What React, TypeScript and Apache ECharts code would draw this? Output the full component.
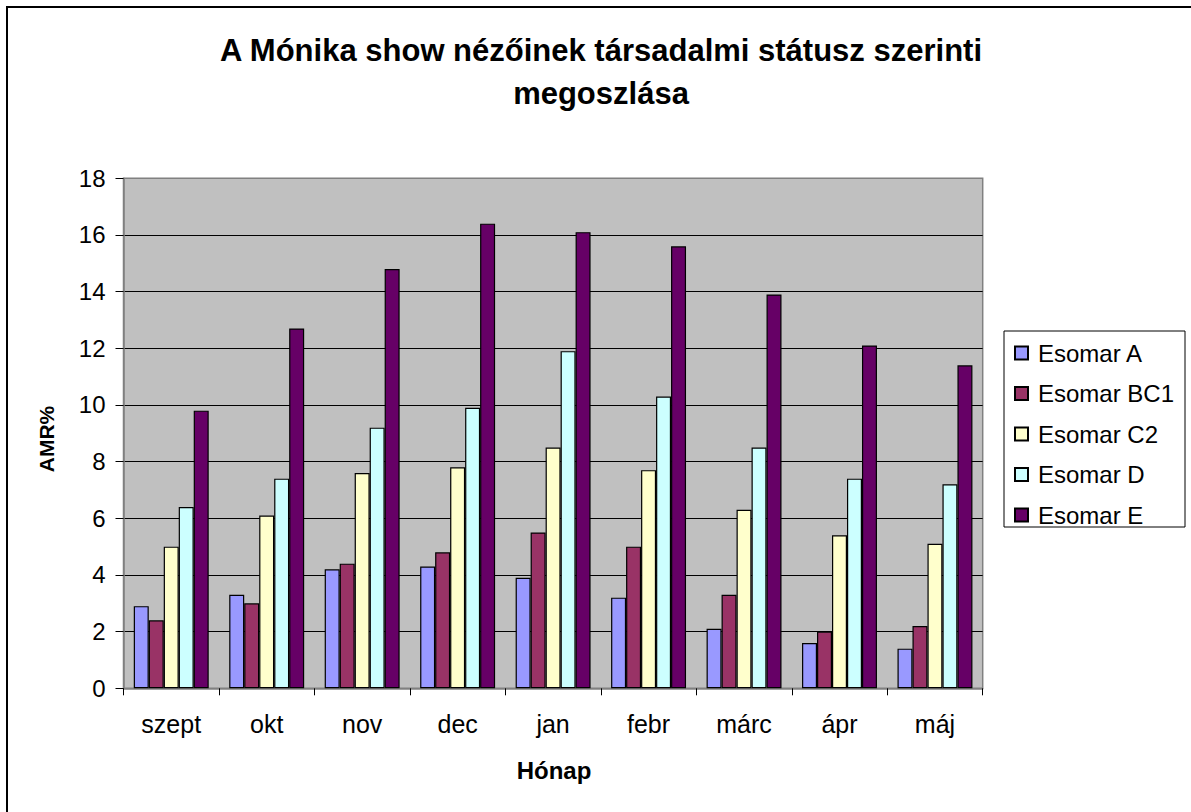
import React, { useEffect, useRef } from "react";
import * as echarts from "echarts";

const titleText = "A Mónika show nézőinek társadalmi státusz szerinti\nmegoszlása";
const xAxisName = "Hónap";
const yAxisName = "AMR%";
const categories = ["szept", "okt", "nov", "dec", "jan", "febr", "márc", "ápr", "máj"];
const seriesNames = ["Esomar A", "Esomar BC1", "Esomar C2", "Esomar D", "Esomar E"];
const esomarA = [2.9, 3.3, 4.2, 4.3, 3.9, 3.2, 2.1, 1.6, 1.4];
const esomarBC1 = [2.4, 3.0, 4.4, 4.8, 5.5, 5.0, 3.3, 2.0, 2.2];
const esomarC2 = [5.0, 6.1, 7.6, 7.8, 8.5, 7.7, 6.3, 5.4, 5.1];
const esomarD = [6.4, 7.4, 9.2, 9.9, 11.9, 10.3, 8.5, 7.4, 7.2];
const esomarE = [9.8, 12.7, 14.8, 16.4, 16.1, 15.6, 13.9, 12.1, 11.4];
const seriesColors = ["#9999FF", "#993366", "#FFFFCC", "#CCFFFF", "#660066"];
const yTicks = { min: 0, max: 18, interval: 2 };

const FONT = "'Liberation Sans', Arial, sans-serif";

export default function App() {
  const ref = useRef<HTMLDivElement>(null);
  useEffect(() => {
    if (!ref.current) return;
    const chart = echarts.init(ref.current, undefined, { renderer: "svg" });
    const values = [esomarA, esomarBC1, esomarC2, esomarD, esomarE];
    chart.setOption({
      animation: false,
      backgroundColor: "#ffffff",
      textStyle: { fontFamily: FONT },
      title: {
        text: titleText,
        left: 601,
        top: 29,
        textAlign: "center",
        padding: 0,
        textStyle: {
          fontFamily: FONT,
          fontSize: 31,
          fontWeight: "bold",
          color: "#000",
          lineHeight: 43,
        },
      },
      grid: {
        left: 123.5,
        top: 178.3,
        right: 208.3,
        bottom: 123.7,
        show: true,
        backgroundColor: "#C0C0C0",
        borderColor: "#808080",
        borderWidth: 1.5,
        containLabel: false,
      },
      legend: {
        orient: "vertical",
        left: 1014,
        top: 341,
        padding: 0,
        itemWidth: 13,
        itemHeight: 13,
        itemGap: 16.5,
        icon: "rect",
        data: seriesNames,
        textStyle: {
          fontFamily: FONT,
          fontSize: 24,
          lineHeight: 24,
          color: "#000",
          padding: [0, 0, 0, 5],
        },
      },
      xAxis: {
        type: "category",
        data: categories,
        axisLine: { lineStyle: { color: "#808080", width: 1.5 } },
        axisTick: { show: true, length: 7, lineStyle: { color: "#000" } },
        axisLabel: { fontFamily: FONT, fontSize: 25, color: "#000", margin: 23 },
        splitLine: { show: false },
      },
      yAxis: {
        type: "value",
        min: yTicks.min,
        max: yTicks.max,
        interval: yTicks.interval,
        axisLine: { show: true, lineStyle: { color: "#808080", width: 1.5 } },
        axisTick: { show: true, length: 8, lineStyle: { color: "#000" } },
        axisLabel: { fontFamily: FONT, fontSize: 24, color: "#000", margin: 18 },
        splitLine: {
          show: true,
          showMinLine: false,
          showMaxLine: false,
          lineStyle: { color: "#000", width: 1 },
        },
      },
      graphic: [
        {
          type: "line",
          shape: { x1: 7, y1: 7, x2: 7, y2: 812 },
          style: { stroke: "#000", lineWidth: 2 },
          silent: true,
          z: 100,
        },
        {
          type: "line",
          shape: { x1: 6, y1: 7, x2: 1191, y2: 7 },
          style: { stroke: "#000", lineWidth: 2 },
          silent: true,
          z: 100,
        },
        {
          type: "rect",
          shape: { x: 1004, y: 331, width: 181, height: 196 },
          style: { fill: "#fff", stroke: "#000", lineWidth: 1 },
          silent: true,
          z: -1,
        },
        {
          type: "text",
          x: 46,
          y: 439,
          rotation: Math.PI / 2,
          style: {
            text: yAxisName,
            fontFamily: FONT,
            fontSize: 21,
            fontWeight: "bold",
            fill: "#000",
            textAlign: "center",
            textVerticalAlign: "middle",
          },
        },
        {
          type: "text",
          x: 554,
          y: 770,
          style: {
            text: xAxisName,
            fontFamily: FONT,
            fontSize: 24,
            fontWeight: "bold",
            fill: "#000",
            textAlign: "center",
            textVerticalAlign: "middle",
          },
        },
      ],
      series: seriesNames.map((name, i) => ({
        name,
        type: "bar",
        data: values[i],
        barGap: "0%",
        barCategoryGap: "21.5%",
        itemStyle: { color: seriesColors[i], borderColor: "#000", borderWidth: 1.2 },
      })),
    });
    return () => chart.dispose();
  }, []);
  return (
    <div
      ref={ref}
      style={{ position: "fixed", left: 0, top: 0, width: 1191, height: 812 }}
    />
  );
}
